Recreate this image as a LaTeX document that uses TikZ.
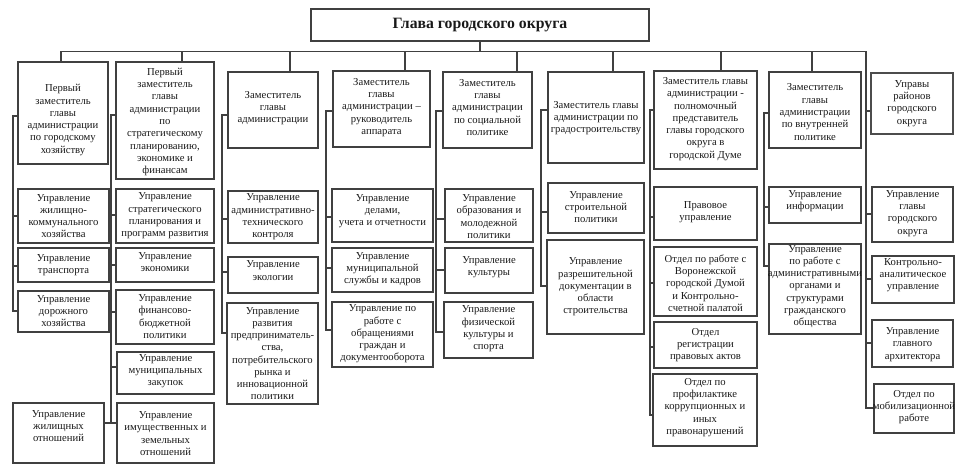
\documentclass[tikz,border=0pt]{standalone}
\usepackage{fontspec}
\setmainfont{Liberation Serif}
\tikzset{
 box/.style={draw=black!75, line width=0.95pt, inner sep=0pt, rectangle},
 thickbox/.style={box, draw=black!70, line width=2pt},
 txt/.style={align=center, inner sep=0pt, font=\fontsize{8}{9.2}\selectfont, text=black!90},
 conn/.style={draw=black!75, line width=0.8pt},
}
\newcommand\bx[8][box]{%
 \pgfmathsetmacro\bxw{(#5-#3)*0.75}%
 \pgfmathsetmacro\bxh{(#6-#4)*0.75}%
 \pgfmathsetmacro\bxcx{(#3+#5)/2}%
 \pgfmathsetmacro\bxcy{(#4+#6)/2}%
 \node[#1, minimum width=\bxw pt, minimum height=\bxh pt] (#2) at (\bxcx,\bxcy) {};
 \node[txt] (#2t) at (\bxcx,#7) {#8};
}
\newcommand\tk[3]{\draw[conn] (#1 |- 0,#3) -- (#2.west |- 0,#3);}
\begin{document}
\begin{tikzpicture}[x=0.75pt,y=-0.75pt]
\useasboundingbox (0,0) rectangle (971,470);
% title
\node[box, minimum width=253.5pt, minimum height=24pt] (glava) at (480,25) {};
\node[txt, font=\fontsize{11.8}{13}\selectfont\bfseries] (glavat) at (480,25) {Глава городского округа};
% column 1
\bx{c1h}{18}{62}{108}{164}{120}{Первый\\заместитель\\главы\\администрации\\по городскому\\хозяйству}
\bx{c1a}{18}{189}{109}{243}{216}{Управление\\жилищно-\\коммунального\\хозяйства}
\bx{c1b}{18}{248}{109}{282}{265}{Управление\\транспорта}
\bx{c1c}{18}{291}{109}{332}{311}{Управление\\дорожного\\хозяйства}
\bx{c1d}{13}{403}{104}{463}{426}{Управление\\жилищных\\отношений}
% column 2
\bx{c2h}{116}{62}{214}{179}{122}{Первый\\заместитель\\главы\\администрации\\по\\стратегическому\\планированию,\\экономике и\\финансам}
\bx{c2a}{116}{189}{214}{243}{216}{Управление\\стратегического\\планирования и\\программ развития}
\bx{c2b}{116}{248}{214}{282}{262}{Управление\\экономики}
\bx{c2c}{116}{290}{214}{344}{316.5}{Управление\\финансово-\\бюджетной\\политики}
\bx{c2d}{117}{352}{214}{394}{371}{Управление\\муниципальных\\закупок}
\bx{c2e}{117}{403}{214}{463}{433.5}{Управление\\имущественных и\\земельных\\отношений}
% column 3
\bx{c3h}{228}{72}{318}{148}{108}{Заместитель\\главы\\администрации}
\bx{c3a}{228}{191}{318}{243}{217}{Управление\\административно-\\технического\\контроля}
\bx{c3b}{228}{257}{318}{293}{270.5}{Управление\\экологии}
\bx{c3c}{227}{303}{318}{404}{353.5}{Управление\\развития\\предприниматель-\\ства,\\потребительского\\рынка и\\инновационной\\политики}
% column 4
\bx{c4h}{333}{71}{430}{147}{107.5}{Заместитель\\главы\\администрации –\\руководитель\\аппарата}
\bx{c4a}{332}{189}{433}{242}{211}{Управление\\делами,\\учета и отчетности}
\bx{c4b}{332}{248}{433}{292}{269}{Управление\\муниципальной\\службы и кадров}
\bx{c4c}{332}{302}{433}{367}{334}{Управление по\\работе с\\обращениями\\граждан и\\документооборота}
% column 5
\bx{c5h}{443}{72}{532}{148}{107.5}{Заместитель\\главы\\администрации\\по социальной\\политике}
\bx{c5a}{445}{189}{533}{242}{216.5}{Управление\\образования и\\молодежной\\политики}
\bx{c5b}{445}{248}{533}{293}{267.5}{Управление\\культуры}
\bx{c5c}{444}{302}{533}{358}{329}{Управление\\физической\\культуры и\\спорта}
% column 6
\bx{c6h}{548}{72}{644}{163}{118}{Заместитель главы\\администрации по\\градостроительству}
\bx{c6a}{548}{183}{644}{233}{207}{Управление\\строительной\\политики}
\bx{c6b}{547}{240}{644}{334}{287}{Управление\\разрешительной\\документации в\\области\\строительства}
% column 7
\bx{c7h}{654}{71}{757}{169}{119}{Заместитель главы\\администрации -\\полномочный\\представитель\\главы городского\\округа в\\городской Думе}
\bx{c7a}{654}{187}{757}{240}{212}{Правовое\\управление}
\bx{c7b}{654}{247}{757}{316}{283}{Отдел по работе с\\Воронежской\\городской Думой\\и Контрольно-\\счетной палатой}
\bx{c7c}{654}{322}{757}{368}{345}{Отдел\\регистрации\\правовых актов}
\bx{c7d}{653}{374}{757}{446}{407.5}{Отдел по\\профилактике\\коррупционных и\\иных\\правонарушений}
% column 8
\bx{c8h}{769}{72}{861}{148}{112}{Заместитель\\главы\\администрации\\по внутренней\\политике}
\bx{c8a}{769}{187}{861}{223}{201}{Управление\\информации}
\bx{c8b}{769}{244}{861}{334}{286.5}{Управление\\по работе с\\административными\\органами и\\структурами\\гражданского\\общества}
% column 9
\bx[thickbox]{c9h}{871}{73}{953}{134}{103.5}{Управы\\районов\\городского\\округа}
\bx{c9a}{872}{187}{953}{242}{213.5}{Управление\\главы\\городского\\округа}
\bx{c9b}{872}{256}{954}{303}{275}{Контрольно-\\аналитическое\\управление}
\bx{c9c}{872}{320}{953}{367}{344.5}{Управление\\главного\\архитектора}
\bx{c9d}{874}{384}{954}{433}{407}{Отдел по\\мобилизационной\\работе}
% bus
\coordinate (busL) at (61,51.5);
\coordinate (busR) at (866,51.5);
\draw[conn] (glava.south |- 0,41) -- (glava.south |- busL);
\draw[conn] (busL) -- (busR);
\draw[conn] (busL) -- (busL |- c1h.north);
\coordinate (d2) at (182,51.5); \draw[conn] (d2) -- (d2 |- c2h.north);
\coordinate (d3) at (290,51.5); \draw[conn] (d3) -- (d3 |- c3h.north);
\coordinate (d4) at (405,51.5); \draw[conn] (d4) -- (d4 |- c4h.north);
\coordinate (d5) at (517,51.5); \draw[conn] (d5) -- (d5 |- c5h.north);
\coordinate (d6) at (613,51.5); \draw[conn] (d6) -- (d6 |- c6h.north);
\coordinate (d7) at (721,51.5); \draw[conn] (d7) -- (d7 |- c7h.north);
\coordinate (d8) at (812,51.5); \draw[conn] (d8) -- (d8 |- c8h.north);
% spines
\coordinate (sp1) at (13,116);
\draw[conn] (c1h.west |- sp1) -- (sp1) -- (sp1 |- 0,311) -- (c1c.west |- 0,311);
\tk{sp1}{c1a}{216} \tk{sp1}{c1b}{266}
\coordinate (sp2) at (111,115);
\draw[conn] (c2h.west |- sp2) -- (sp2) -- (sp2 |- 0,423) -- (c2e.west |- 0,423);
\draw[conn] (c1d.east |- 0,423) -- (sp2 |- 0,423);
\tk{sp2}{c2a}{215} \tk{sp2}{c2b}{265} \tk{sp2}{c2c}{312} \tk{sp2}{c2d}{367}
\coordinate (sp3) at (222,115);
\draw[conn] (c3h.west |- sp3) -- (sp3) -- (sp3 |- 0,333) -- (c3c.west |- 0,333);
\tk{sp3}{c3a}{219} \tk{sp3}{c3b}{272}
\coordinate (sp4) at (326,111);
\draw[conn] (c4h.west |- sp4) -- (sp4) -- (sp4 |- 0,330) -- (c4c.west |- 0,330);
\tk{sp4}{c4a}{217} \tk{sp4}{c4b}{268}
\coordinate (sp5) at (436,111);
\draw[conn] (c5h.west |- sp5) -- (sp5) -- (sp5 |- 0,332) -- (c5c.west |- 0,332);
\tk{sp5}{c5a}{219} \tk{sp5}{c5b}{270}
\coordinate (sp6) at (541,110);
\draw[conn] (c6h.west |- sp6) -- (sp6) -- (sp6 |- 0,286) -- (c6b.west |- 0,286);
\tk{sp6}{c6a}{212}
\coordinate (sp7) at (650,110);
\draw[conn] (c7h.west |- sp7) -- (sp7) -- (sp7 |- 0,415) -- (c7d.west |- 0,415);
\tk{sp7}{c7a}{217} \tk{sp7}{c7b}{283} \tk{sp7}{c7c}{347}
\coordinate (sp8) at (764,113);
\draw[conn] (c8h.west |- sp8) -- (sp8) -- (sp8 |- 0,266) -- (c8b.west |- 0,266);
\tk{sp8}{c8a}{207}
\draw[conn] (busR) -- (busR |- 0,408) -- (c9d.west |- 0,408);
\tk{busR}{c9h}{111} \tk{busR}{c9a}{214} \tk{busR}{c9b}{279} \tk{busR}{c9c}{343}
\end{tikzpicture}
\end{document}
